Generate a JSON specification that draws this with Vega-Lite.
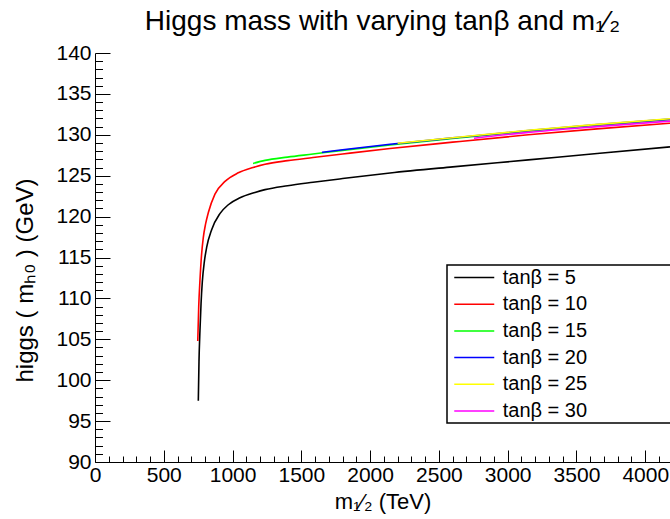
{
  "$schema": "https://vega.github.io/schema/vega-lite/v6.json",
  "width": 575,
  "height": 409,
  "autosize": {"type": "none"},
  "padding": {"left": 95, "top": 53, "right": 0, "bottom": 57},
  "background": "white",
  "title": {
    "text": "Higgs mass with varying tanβ and m₁⁄₂",
    "font": "Liberation Sans",
    "fontSize": 28,
    "fontWeight": "normal",
    "color": "black",
    "anchor": "middle",
    "baseline": "alphabetic",
    "offset": -16
  },
  "config": {
    "view": {"stroke": null},
    "font": "Liberation Sans",
    "axis": {
      "grid": false,
      "domainColor": "black",
      "domainWidth": 1,
      "tickColor": "black",
      "tickWidth": 1,
      "labelFont": "Liberation Sans",
      "labelFontSize": 21,
      "labelColor": "black",
      "labelOverlap": false,
      "labelFlush": false,
      "titleFont": "Liberation Sans",
      "titleFontSize": 22,
      "titleFontWeight": "normal",
      "titleColor": "black"
    },
    "legend": {
      "orient": "none",
      "legendX": 352,
      "legendY": 212,
      "strokeColor": "black",
      "strokeWidth": 1.5,
      "fillColor": "white",
      "padding": 1.5,
      "symbolType": "M-2,0H2M19.2,0",
      "symbolSize": 400,
      "symbolStrokeWidth": 1.5,
      "symbolOffset": 14.75,
      "labelOffset": 17.5,
      "rowPadding": 5.7,
      "labelFont": "Liberation Sans",
      "labelFontSize": 20,
      "labelColor": "black",
      "labelLimit": 400
    }
  },
  "layer": [
    {
      "data": {
        "values": [
          {"m": 751, "h": 97.5, "tb": "tanβ = 5"},
          {"m": 756, "h": 102.3, "tb": "tanβ = 5"},
          {"m": 763, "h": 106.05, "tb": "tanβ = 5"},
          {"m": 771, "h": 109.4, "tb": "tanβ = 5"},
          {"m": 780, "h": 112.0, "tb": "tanβ = 5"},
          {"m": 795, "h": 114.5, "tb": "tanβ = 5"},
          {"m": 812, "h": 116.26, "tb": "tanβ = 5"},
          {"m": 848, "h": 118.4, "tb": "tanβ = 5"},
          {"m": 908, "h": 120.36, "tb": "tanβ = 5"},
          {"m": 969, "h": 121.45, "tb": "tanβ = 5"},
          {"m": 1054, "h": 122.3, "tb": "tanβ = 5"},
          {"m": 1163, "h": 122.95, "tb": "tanβ = 5"},
          {"m": 1236, "h": 123.3, "tb": "tanβ = 5"},
          {"m": 1400, "h": 123.78, "tb": "tanβ = 5"},
          {"m": 1585, "h": 124.2, "tb": "tanβ = 5"},
          {"m": 1800, "h": 124.65, "tb": "tanβ = 5"},
          {"m": 2145, "h": 125.33, "tb": "tanβ = 5"},
          {"m": 2600, "h": 126.08, "tb": "tanβ = 5"},
          {"m": 3150, "h": 126.93, "tb": "tanβ = 5"},
          {"m": 3650, "h": 127.72, "tb": "tanβ = 5"},
          {"m": 4180, "h": 128.52, "tb": "tanβ = 5"},

          {"m": 747, "h": 104.8, "tb": "tanβ = 10"},
          {"m": 754, "h": 109.0, "tb": "tanβ = 10"},
          {"m": 763, "h": 112.2, "tb": "tanβ = 10"},
          {"m": 774, "h": 115.2, "tb": "tanβ = 10"},
          {"m": 787, "h": 117.4, "tb": "tanβ = 10"},
          {"m": 804, "h": 119.1, "tb": "tanβ = 10"},
          {"m": 824, "h": 120.5, "tb": "tanβ = 10"},
          {"m": 872, "h": 122.75, "tb": "tanβ = 10"},
          {"m": 945, "h": 124.3, "tb": "tanβ = 10"},
          {"m": 1042, "h": 125.35, "tb": "tanβ = 10"},
          {"m": 1149, "h": 126.0, "tb": "tanβ = 10"},
          {"m": 1236, "h": 126.4, "tb": "tanβ = 10"},
          {"m": 1400, "h": 126.84, "tb": "tanβ = 10"},
          {"m": 1585, "h": 127.22, "tb": "tanβ = 10"},
          {"m": 1800, "h": 127.65, "tb": "tanβ = 10"},
          {"m": 2145, "h": 128.32, "tb": "tanβ = 10"},
          {"m": 2600, "h": 129.1, "tb": "tanβ = 10"},
          {"m": 3150, "h": 130.0, "tb": "tanβ = 10"},
          {"m": 3650, "h": 130.72, "tb": "tanβ = 10"},
          {"m": 4180, "h": 131.42, "tb": "tanβ = 10"},

          {"m": 1149, "h": 126.5, "tb": "tanβ = 15"},
          {"m": 1236, "h": 126.87, "tb": "tanβ = 15"},
          {"m": 1400, "h": 127.27, "tb": "tanβ = 15"},
          {"m": 1585, "h": 127.65, "tb": "tanβ = 15"},
          {"m": 1800, "h": 128.1, "tb": "tanβ = 15"},
          {"m": 2145, "h": 128.76, "tb": "tanβ = 15"},
          {"m": 2600, "h": 129.55, "tb": "tanβ = 15"},
          {"m": 3150, "h": 130.45, "tb": "tanβ = 15"},
          {"m": 3650, "h": 131.15, "tb": "tanβ = 15"},
          {"m": 4180, "h": 131.85, "tb": "tanβ = 15"},

          {"m": 1650, "h": 127.85, "tb": "tanβ = 20"},
          {"m": 1800, "h": 128.17, "tb": "tanβ = 20"},
          {"m": 2145, "h": 128.84, "tb": "tanβ = 20"},
          {"m": 2600, "h": 129.62, "tb": "tanβ = 20"},
          {"m": 3150, "h": 130.52, "tb": "tanβ = 20"},
          {"m": 3650, "h": 131.24, "tb": "tanβ = 20"},
          {"m": 4180, "h": 131.92, "tb": "tanβ = 20"},

          {"m": 2200, "h": 128.97, "tb": "tanβ = 25"},
          {"m": 2600, "h": 129.64, "tb": "tanβ = 25"},
          {"m": 3150, "h": 130.55, "tb": "tanβ = 25"},
          {"m": 3650, "h": 131.27, "tb": "tanβ = 25"},
          {"m": 4180, "h": 131.96, "tb": "tanβ = 25"},

          {"m": 2755, "h": 129.58, "tb": "tanβ = 30"},
          {"m": 3150, "h": 130.3, "tb": "tanβ = 30"},
          {"m": 3650, "h": 131.0, "tb": "tanβ = 30"},
          {"m": 4180, "h": 131.67, "tb": "tanβ = 30"}
        ]
      },
      "mark": {"type": "line", "strokeWidth": 1.6, "clip": true, "interpolate": "monotone"},
      "encoding": {
        "x": {
          "field": "m",
          "type": "quantitative",
          "scale": {"domain": [0, 4180], "nice": false, "zero": false},
          "axis": {
            "title": "m₁⁄₂ (TeV)",
            "format": "d",
            "values": [0,100,200,300,400,500,600,700,800,900,1000,1100,1200,1300,1400,1500,1600,1700,1800,1900,2000,2100,2200,2300,2400,2500,2600,2700,2800,2900,3000,3100,3200,3300,3400,3500,3600,3700,3800,3900,4000,4100],
            "labelExpr": "datum.value % 500 === 0 ? datum.label : ''",
            "tickSize": {"condition": {"test": "datum.value % 500 === 0", "value": -12}, "value": -6},
            "labelPadding": 14,
            "titlePadding": 0
          }
        },
        "y": {
          "field": "h",
          "type": "quantitative",
          "scale": {"domain": [90, 140], "nice": false, "zero": false},
          "axis": {
            "title": "higgs ( mₕ₀   )  (GeV)",
            "format": "d",
            "values": [90,91,92,93,94,95,96,97,98,99,100,101,102,103,104,105,106,107,108,109,110,111,112,113,114,115,116,117,118,119,120,121,122,123,124,125,126,127,128,129,130,131,132,133,134,135,136,137,138,139,140],
            "labelExpr": "datum.value % 5 === 0 ? datum.label : ''",
            "tickSize": {"condition": {"test": "datum.value % 5 === 0", "value": -15}, "value": -7.5},
            "labelPadding": 19,
            "titlePadding": 18,
            "titleFontSize": 24,
            "titleY": 227
          }
        },
        "color": {
          "field": "tb",
          "type": "nominal",
          "sort": null,
          "scale": {
            "domain": ["tanβ = 5", "tanβ = 10", "tanβ = 15", "tanβ = 20", "tanβ = 25", "tanβ = 30"],
            "range": ["#000000", "#ff0000", "#00ff00", "#0000ff", "#ffff00", "#ff00ff"]
          },
          "legend": {"title": null}
        }
      }
    },
    {
      "mark": {"type": "rule", "color": "black", "strokeWidth": 1, "yOffset": 0.5},
      "encoding": {
        "y": {
          "datum": 140,
          "type": "quantitative",
          "axis": {
            "title": "higgs ( mₕ₀   )  (GeV)",
            "format": "d",
            "values": [90,91,92,93,94,95,96,97,98,99,100,101,102,103,104,105,106,107,108,109,110,111,112,113,114,115,116,117,118,119,120,121,122,123,124,125,126,127,128,129,130,131,132,133,134,135,136,137,138,139,140],
            "labelExpr": "datum.value % 5 === 0 ? datum.label : ''",
            "tickSize": {"condition": {"test": "datum.value % 5 === 0", "value": -15}, "value": -7.5},
            "labelPadding": 19,
            "titlePadding": 18,
            "titleFontSize": 24,
            "titleY": 227
          }
        }
      }
    }
  ]
}
